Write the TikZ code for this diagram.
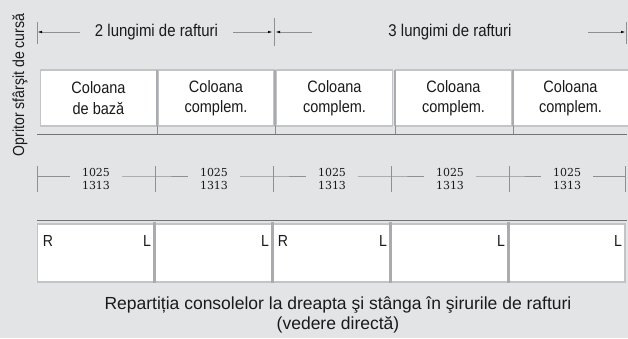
\documentclass[tikz,border=0pt]{standalone}
\usepackage{fontspec}
\setmainfont{Liberation Sans}[FakeStretch=0.88]
\newfontfamily\capfont{Liberation Sans}
\newfontfamily\numfont{DejaVu Serif}
\usetikzlibrary{arrows.meta}
\definecolor{bg}{HTML}{E3E4E6}
\definecolor{edge}{HTML}{C2C4C7}
\definecolor{divc}{HTML}{A9ABAE}
\definecolor{dimc}{HTML}{8E9093}
\definecolor{txt}{HTML}{1A1A1A}
\begin{document}
\begin{tikzpicture}[x=1pt,y=-1pt,
  every node/.style={text=txt},
  shelf/.style={draw=edge,line width=1.4pt,fill=white,minimum width=116pt,minimum height=56pt,inner sep=0pt,align=center,font=\fontsize{16.5}{20.5}\selectfont},
  lowshelf/.style={draw=edge,line width=1.4pt,fill=white,minimum width=116pt,minimum height=58pt,inner sep=0pt},
  divider/.style={draw=divc,line width=2.2pt},
  dimline/.style={draw=dimc,line width=0.4pt},
  dimarrow/.style={dimline,-{Latex[length=4pt,width=2.6pt,black]}},
  dimtick/.style={draw=dimc,line width=0.5pt},
  toptext/.style={font=\fontsize{17}{18}\selectfont,inner ysep=0pt},
  numtext/.style={font=\numfont\fontsize{11}{13.5}\selectfont,align=center,inner sep=0pt},
  rl/.style={font=\fontsize{16}{16}\selectfont,inner sep=0pt},
  baseline/.style={draw=black!55,line width=0.7pt}
]
\fill[bg] (0,0) rectangle (628,338);
\useasboundingbox (0,0) rectangle (628,338);

% vertical label
\node[rotate=90,font=\fontsize{16}{17}\selectfont] (stop) at (20,85) {Opritor sfârşit de cursă};

% top dimension
\coordinate (ta) at (38,32);
\coordinate (tb) at (272,32);
\coordinate (tc) at (276,32);
\coordinate (td) at (625,32);
\node[toptext,inner xsep=15pt] (t2) at (156.5,32) {2 lungimi de rafturi};
\node[toptext,inner xsep=76pt] (t3) at (450,32) {3 lungimi de rafturi};
\draw[dimarrow] (t2.west) -- (ta);
\draw[dimarrow] (t2.east) -- (tb);
\draw[dimarrow] (t3.west) -- (tc);
\draw[dimarrow] (t3.east) -- (td);
\draw[dimtick] (37,22) -- (37,44);
\draw[dimtick] (274,18) -- (274,46);
\draw[dimtick] (626,22) -- (626,44);

% top row shelves
\node[shelf] (c1) at (98.5,98) {Coloana\\de bază};
\node[shelf] (c2) at (216,98) {Coloana\\complem.};
\node[shelf] (c3) at (334.5,98) {Coloana\\complem.};
\node[shelf] (c4) at (453.5,98) {Coloana\\complem.};
\node[shelf] (c5) at (570.5,98) {Coloana\\complem.};
\foreach \x in {157,275,395,513} \draw[divider] (\x,70) -- (\x,126);
\coordinate (b1) at (37,134);
\coordinate (b2) at (627,134);
\draw[baseline] (b1) -- (b2);
\foreach \x in {157,275,395,513} \draw[draw=black!45,line width=0.6pt] (\x,126) -- (\x,134);

% middle dimension
\foreach \x in {37,155,273,391,509,625} \draw[dimtick] (\x,166) -- (\x,192);
\foreach \i/\x in {1/96,2/214,3/332,4/450,5/567} {
  \node[numtext,inner xsep=12pt] (n\i) at (\x,179) {1025\\1313};
}
\coordinate (m0) at (37,176);
\coordinate (m1) at (155,176);
\coordinate (m2) at (273,176);
\coordinate (m3) at (391,176);
\coordinate (m4) at (509,176);
\coordinate (m5) at (625,176);
\draw[dimline] (m0) -- (m0 -| n1.west) (n1.east |- m1) -- (m1) -- (m1 -| n2.west)
  (n2.east |- m2) -- (m2) -- (m2 -| n3.west) (n3.east |- m3) -- (m3) -- (m3 -| n4.west)
  (n4.east |- m4) -- (m4) -- (m4 -| n5.west) (n5.east |- m5) -- (m5);

% bottom row shelves
\node[lowshelf] (s1) at (95.5,253) {};
\node[lowshelf] (s2) at (213.5,253) {};
\node[lowshelf] (s3) at (331.5,253) {};
\node[lowshelf] (s4) at (449.5,253) {};
\node[lowshelf] (s5) at (567,253) {};
\foreach \x in {154.5,272.5,390.5,508.5} \draw[divider] (\x,222) -- (\x,283);
\coordinate (u1) at (37,220);
\coordinate (u2) at (627,220);
\draw[baseline] (u1) -- (u2);
\node[rl] (r1) at (48,241) {R};
\node[rl] (l1) at (147,241) {L};
\node[rl] (l2) at (265,241) {L};
\node[rl] (r3) at (283,241) {R};
\node[rl] (l3) at (383,241) {L};
\node[rl] (l4) at (501,241) {L};
\node[rl] (l5) at (618,241) {L};

% caption
\node[font=\capfont\fontsize{17.5}{19.5}\selectfont,align=center] (cap) at (338,315) {Repartiția consolelor la dreapta şi stânga în şirurile de rafturi\\(vedere directă)};
\end{tikzpicture}
\end{document}
